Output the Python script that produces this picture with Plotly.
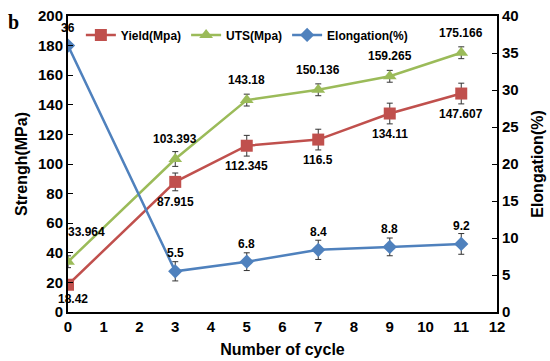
import plotly.graph_objects as go

cycles = [0, 3, 5, 7, 9, 11]
yield_mpa = [18.42, 87.915, 112.345, 116.5, 134.11, 147.607]
yield_err = [3, 6, 7, 7, 7, 7]
uts_mpa = [33.964, 103.393, 143.18, 150.136, 159.265, 175.166]
uts_err = [4, 5, 4, 4, 4, 4]
elong = [36, 5.5, 6.8, 8.4, 8.8, 9.2]
elong_err = [0, 1.3, 1.2, 1.3, 1.2, 1.4]
yield_lbl = ["18.42", "87.915", "112.345", "116.5", "134.11", "147.607"]
uts_lbl = ["33.964", "103.393", "143.18", "150.136", "159.265", "175.166"]
elong_lbl = ["36", "5.5", "6.8", "8.4", "8.8", "9.2"]

RED = "#C0504D"
GREEN = "#9BBB59"
BLUE = "#4F81BD"
FONT = "Liberation Sans"

fig = go.Figure()
eb = lambda arr: dict(type="data", array=arr, visible=True, color="#333333", thickness=1, width=3)

fig.add_trace(go.Scatter(x=cycles, y=yield_mpa, name="<b>Yield(Mpa)</b>", mode="lines+markers",
                         line=dict(color=RED, width=2.5), marker=dict(symbol="square", size=12, color=RED),
                         error_y=eb(yield_err)))
fig.add_trace(go.Scatter(x=cycles, y=uts_mpa, name="<b>UTS(Mpa)</b>", mode="lines+markers",
                         line=dict(color=GREEN, width=2.5), marker=dict(symbol="triangle-up", size=12, color=GREEN),
                         error_y=eb(uts_err)))
fig.add_trace(go.Scatter(x=cycles, y=elong, name="<b>Elongation(%)</b>", mode="lines+markers", yaxis="y2",
                         line=dict(color=BLUE, width=2.5), marker=dict(symbol="diamond", size=11, color=BLUE),
                         error_y=eb(elong_err)))

ann = []
lf = dict(family=FONT, size=12, color="black")
for i, x in enumerate(cycles):
    ann.append(dict(x=x, y=yield_mpa[i], xref="x", yref="y", text="<b>%s</b>" % yield_lbl[i],
                    showarrow=False, yshift=-20 if i else -14, xshift=0 if i else 5, font=lf))
    ann.append(dict(x=x, y=uts_mpa[i], xref="x", yref="y", text="<b>%s</b>" % uts_lbl[i],
                    showarrow=False, yshift=20 if i else 30, xshift=0 if i else 18, font=lf))
    ann.append(dict(x=x, y=elong[i], xref="x", yref="y2", text="<b>%s</b>" % elong_lbl[i],
                    showarrow=False, yshift=18, font=lf))
ann.append(dict(x=-0.128, y=0.98, xref="paper", yref="paper", text="<b>b</b>", showarrow=False,
                xanchor="center", yanchor="middle", font=dict(family="Liberation Serif", size=20, color="black")))

tickfont = dict(family=FONT, size=15, color="black")
titlefont = dict(family=FONT, size=16, color="black")

fig.update_layout(
    width=550, height=361,
    margin=dict(l=68, r=53, t=16, b=49, autoexpand=False),
    paper_bgcolor="white", plot_bgcolor="white",
    showlegend=True,
    legend=dict(orientation="h", x=0.03, y=0.985, xanchor="left", yanchor="top",
                font=dict(family=FONT, size=12, color="black"), bgcolor="rgba(0,0,0,0)",
                itemwidth=30, tracegroupgap=0),
    xaxis=dict(range=[0, 12], dtick=1, tick0=0, showgrid=False, zeroline=False, automargin=False,
               showline=True, linecolor="black", linewidth=2, mirror=True, ticks="",
               tickfont=tickfont, tickprefix="<b>", ticksuffix="</b>",
               title=dict(text="<b>Number of cycle</b>", font=titlefont, standoff=10)),
    yaxis=dict(range=[0, 200], dtick=20, showgrid=False, zeroline=False, automargin=False,
               showline=True, linecolor="black", linewidth=2, ticks="inside", ticklen=5,
               tickcolor="black", tickfont=tickfont, tickprefix="<b>", ticksuffix="</b>",
               title=dict(text="<b>Strengh(MPa)</b>", font=titlefont, standoff=6)),
    yaxis2=dict(range=[0, 40], dtick=5, overlaying="y", side="right", showgrid=False, zeroline=False,
                automargin=False,
                showline=True, linecolor="black", linewidth=2, ticks="inside", ticklen=5,
                tickcolor="black", tickfont=tickfont, tickprefix="<b>", ticksuffix="</b>",
                title=dict(text="<b>Elongation(%)</b>", font=titlefont, standoff=14)),
    annotations=ann,
)

fig.write_html("out.html", config={"displayModeBar": False},
               post_script="document.body.style.margin='0';")
